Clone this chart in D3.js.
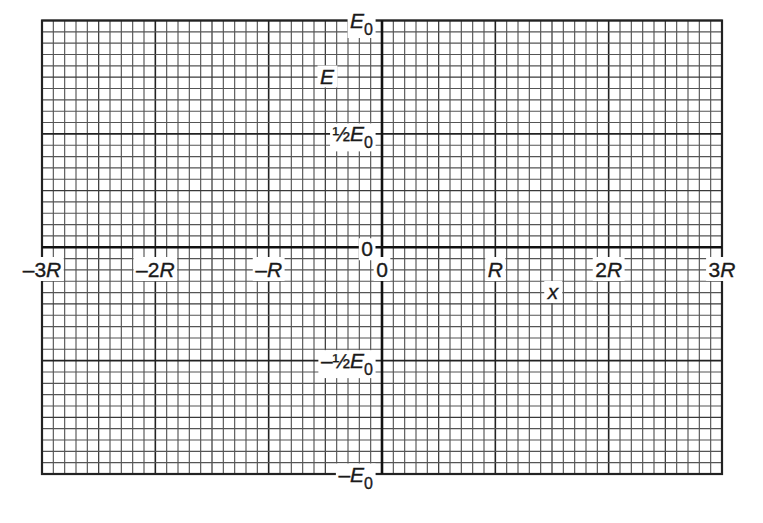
<!DOCTYPE html>
<html>
<head>
<meta charset="utf-8">
<script src="https://cdn.jsdelivr.net/npm/d3@7"></script>
<style>
  html, body { margin: 0; padding: 0; background: #fff; }
  svg { display: block; }
  text { font-family: "Liberation Sans", Arial, Helvetica, sans-serif; fill: #1a1a1a; stroke: #1a1a1a; stroke-width: 0.35px; }
</style>
</head>
<body>
<script>
// Domain (in units of R and E0)
const xDomain = [-3, 3];
const yDomain = [-1, 1];
// Tick labels along x (value in R, label parts: [text, italic])
const xTicks = [-3, -2, -1, 0, 1, 2, 3];
const xTickLabels = [
  [["–3", false], ["R", true]],
  [["–2", false], ["R", true]],
  [["–", false], ["R", true]],
  [["0", false]],
  [["R", true]],
  [["2", false], ["R", true]],
  [["3", false], ["R", true]]
];
// Tick labels along y (value in E0)
const yTicks = [1, 0.5, 0, -0.5, -1];
const yTickLabels = [
  [["E", true], ["0", "sub"]],
  [["½", false], ["E", true], ["0", "sub"]],
  [["0", false]],
  [["–½", false], ["E", true], ["0", "sub"]],
  [["–", false], ["E", true], ["0", "sub"]]
];
const xAxisTitle = "x";
const yAxisTitle = "E";
// grid subdivisions
const xMinorStep = 0.1, xMediumStep = 0.5, xMajorStep = 1;
const yMinorStep = 0.05, yMediumStep = 0.25, yMajorStep = 0.5;

const W = 763, H = 523;
const svg = d3.select("body").append("svg").attr("width", W).attr("height", H);

const x = d3.scaleLinear().domain(xDomain).range([42, 722]);
const y = d3.scaleLinear().domain(yDomain).range([474, 20.5]);

function steps(dom, step) {
  const n = Math.round((dom[1] - dom[0]) / step);
  return d3.range(n + 1).map(i => +(dom[0] + i * step).toFixed(6));
}
function isMult(v, s) { return Math.abs(v / s - Math.round(v / s)) < 1e-6; }

const grid = svg.append("g");
function styleFor(v, med, maj) {
  if (isMult(v, maj)) return { c: "#222", w: 1.6 };
  if (isMult(v, med)) return { c: "#3a3a3a", w: 1.25 };
  return { c: "#555", w: 1.15 };
}
steps(xDomain, xMinorStep).forEach(v => {
  const s = styleFor(v, xMediumStep, xMajorStep);
  grid.append("line").attr("x1", x(v)).attr("x2", x(v)).attr("y1", y(yDomain[0])).attr("y2", y(yDomain[1]))
    .attr("stroke", s.c).attr("stroke-width", s.w);
});
steps(yDomain, yMinorStep).forEach(v => {
  const s = styleFor(v, yMediumStep, yMajorStep);
  grid.append("line").attr("y1", y(v)).attr("y2", y(v)).attr("x1", x(xDomain[0])).attr("x2", x(xDomain[1]))
    .attr("stroke", s.c).attr("stroke-width", s.w);
});
// border
grid.append("rect").attr("x", x(xDomain[0])).attr("y", y(yDomain[1]))
  .attr("width", x(xDomain[1]) - x(xDomain[0])).attr("height", y(yDomain[0]) - y(yDomain[1]))
  .attr("fill", "none").attr("stroke", "#222").attr("stroke-width", 2.2);
// axes
svg.append("line").attr("x1", x(xDomain[0])).attr("x2", x(xDomain[1])).attr("y1", y(0)).attr("y2", y(0))
  .attr("stroke", "#111").attr("stroke-width", 2.6);
svg.append("line").attr("x1", x(0)).attr("x2", x(0)).attr("y1", y(yDomain[0])).attr("y2", y(yDomain[1]))
  .attr("stroke", "#111").attr("stroke-width", 2.6);

const labels = svg.append("g");
function addLabel(parts, px, py, anchor, padTop) {
  const g = labels.append("g");
  const t = g.append("text").attr("x", px).attr("y", py).attr("text-anchor", anchor)
    .attr("font-size", 21);
  parts.forEach(([s, kind]) => {
    const ts = t.append("tspan").text(s);
    if (kind === true) ts.attr("font-style", "italic");
    if (kind === "sub") { ts.attr("font-size", 16).attr("dy", 7); }
  });
  const bb = t.node().getBBox();
  const pt = padTop === undefined ? -1 : padTop;
  g.insert("rect", "text").attr("x", bb.x - 2.5).attr("y", bb.y - pt)
    .attr("width", bb.width + 5).attr("height", bb.height + pt).attr("fill", "#fff");
  return g;
}

xTicks.forEach((v, i) => addLabel(xTickLabels[i], x(v), 277, "middle", 1));
yTicks.forEach((v, i) => {
  const by = v === 0 ? y(v) + 9 : y(v) + 7.5;
  addLabel(yTickLabels[i], 373, by, "end");
});
addLabel([[xAxisTitle, true]], 553, 299, "middle");
addLabel([[yAxisTitle, true]], 327, 83.5, "middle");
</script>
</body>
</html>
